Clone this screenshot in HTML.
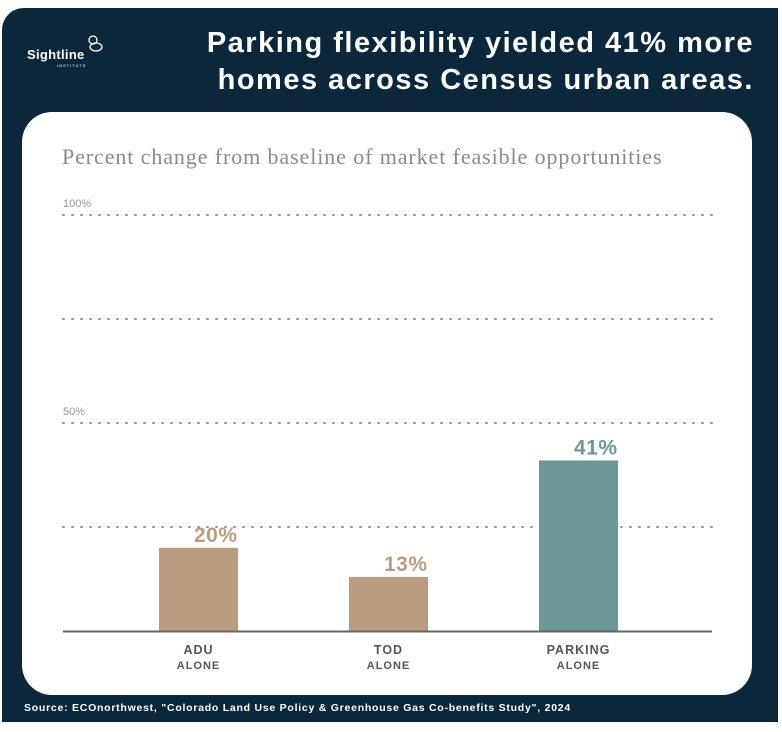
<!DOCTYPE html>
<html><head><meta charset="utf-8"><style>
body{margin:0;background:#fff;width:782px;height:732px;overflow:hidden;font-family:"Liberation Sans",sans-serif}
#panel{position:absolute;left:2px;top:8px;width:776px;height:714px;background:#0b2739;border-radius:22px 0 0 0}
#card{position:absolute;left:22px;top:112px;width:730px;height:583px;background:#fff;border-radius:30px}
#title{position:absolute;right:28px;top:25px;color:#fff;font-weight:bold;font-size:29px;line-height:37px;text-align:right;letter-spacing:1.5px;white-space:nowrap}
#logo{position:absolute;left:27px;top:32px;color:#fff}
#source{position:absolute;left:24px;top:702px;color:#fff;font-size:10.5px;font-weight:bold;letter-spacing:0.75px;white-space:nowrap}
</style></head><body>
<div id="panel"></div>
<div id="logo">
<svg width="80" height="40" style="position:absolute;left:0;top:0"><g fill="none" stroke="#fff" stroke-width="1.3"><circle cx="66" cy="8" r="4"/><ellipse cx="69" cy="15" rx="6" ry="4"/></g></svg>
<div style="position:absolute;left:0;top:15px;font-size:13px;font-weight:bold;letter-spacing:0.3px">Sightline</div>
<div style="position:absolute;left:30px;top:31px;font-size:4px;letter-spacing:1px">INSTITUTE</div>
</div>
<div id="title">Parking flexibility yielded 41% more<br>homes across Census urban areas.</div>
<div id="card"></div>
<svg id="chart" width="782" height="732" style="position:absolute;left:0;top:0">
<text x="62" y="164" font-family="Liberation Serif,serif" font-size="22" letter-spacing="0.9" fill="#8a8a8a">Percent change from baseline of market feasible opportunities</text>
<g id="grid"></g><g id="bars"></g>
</svg>
<div id="source">Source: ECOnorthwest, "Colorado Land Use Policy &amp; Greenhouse Gas Co-benefits Study", 2024</div>
<script>
const categories=["ADU","TOD","PARKING"];
const values=[20,13,41];
const valueLabels=["20%","13%","41%"];
const gridTicks=[25,50,75,100];
const tickLabels={50:"50%",100:"100%"};
const NS="http://www.w3.org/2000/svg";
const y0=631, pxPer=4.16;
const y=v=>y0-v*pxPer;
const xCenter=i=>198.5+i*190;
const grid=document.getElementById('grid'), bars=document.getElementById('bars');
function mk(t,a,p){const e=document.createElementNS(NS,t);for(const k in a)e.setAttribute(k,a[k]);p.appendChild(e);return e;}
gridTicks.forEach(t=>{
 const l=mk('line',{x1:63,x2:712,y1:y(t),y2:y(t),stroke:'#999','stroke-width':2,'stroke-dasharray':'1 8','stroke-linecap':'round'},grid);
 
 
 if(tickLabels[t]){const tx=mk('text',{x:63,y:y(t)-8,'font-size':11,fill:'#999'},grid);tx.textContent=tickLabels[t];
 
 }
});
categories.forEach((c,i)=>{
 const col=i==2?'#6b9797':'#b99d82';
 const r=mk('rect',{x:xCenter(i)-39.5,y:y(values[i]),width:79,height:values[i]*pxPer,fill:col},bars);
 
 
 const v=mk('text',{x:xCenter(i)+39,y:y(values[i])-6,'text-anchor':'end','font-size':21,'font-weight':'bold',fill:col,'letter-spacing':0.5},bars);
 v.textContent=valueLabels[i];
 
 
 const a=mk('text',{x:xCenter(i),y:654,'text-anchor':'middle','font-size':12.5,'font-weight':'bold',fill:'#555','letter-spacing':1},bars);
 a.textContent=c;
 
 
 const b=mk('text',{x:xCenter(i),y:669,'text-anchor':'middle','font-size':11,'font-weight':'bold',fill:'#555','letter-spacing':1},bars);
 b.textContent="ALONE";
 
 
});
const ax=mk('line',{x1:63,x2:712,y1:y0+0.5,y2:y0+0.5,stroke:'#666','stroke-width':2},bars);


</script>
</body></html>
